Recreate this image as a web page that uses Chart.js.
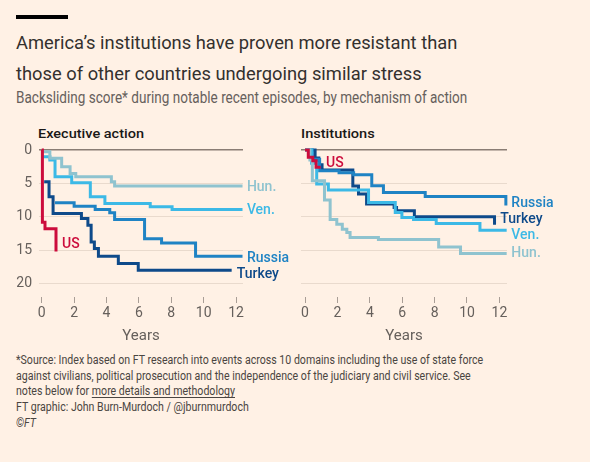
<!DOCTYPE html>
<html lang="en">
  <head>
    <meta charset="UTF-8" />
    <title>Backsliding score</title>
    <script src="https://cdn.jsdelivr.net/npm/chart.js"></script>
    <style>
      body {
        margin: 0;
        background: #fff1e5;
        font-family: Roboto, sans-serif;
        color: #33302e;
      }
      .page {
        position: relative;
        width: 590px;
        height: 462px;
        overflow: hidden;
      }
      .bar {
        position: absolute;
        left: 16px;
        top: 15px;
        width: 52px;
        height: 4px;
        background: #000;
      }
      .txt {
        position: absolute;
        left: 16px;
        white-space: nowrap;
        transform-origin: 0 0;
      }
      .title {
        top: 27px;
        font-size: 19px;
        line-height: 31px;
      }
      .subtitle {
        top: 88px;
        font-size: 16px;
        line-height: 20px;
        color: #66605c;
      }
      .panel {
        top: 126px;
        font-size: 13px;
        font-weight: 500;
        line-height: 16px;
        color: #1a1817;
      }
      .footer {
        top: 353px;
        font-size: 12px;
        line-height: 15.7px;
        color: #4a4541;
      }
      .footer u { text-underline-offset: 2px; }
      canvas {
        position: absolute;
        top: 120px;
      }
    </style>
  </head>
  <body>
    <div class="page">
      <div class="bar"></div>
      <div class="txt title" data-fit="441">
        America’s institutions have proven more resistant than<br />
        those of other countries undergoing similar stress
      </div>
      <div class="txt subtitle" data-fit="451">
        Backsliding score* during notable recent episodes, by mechanism of action
      </div>
      <div class="txt panel" style="left: 38px" data-fit="106">Executive action</div>
      <div class="txt panel" style="left: 301px" data-fit="74">Institutions</div>
      <div class="txt footer" data-fit="467">
        *Source: Index based on FT research into events across 10 domains including the use of state force<br />
        against civilians, political prosecution and the independence of the judiciary and civil service. See<br />
        notes below for <u>more details and methodology</u><br />
        FT graphic: John Burn-Murdoch / @jburnmurdoch<br />
        <i>©FT</i>
      </div>
      <canvas id="execChart" width="290" height="230" style="left: 0"></canvas>
      <canvas id="instChart" width="300" height="230" style="left: 290px"></canvas>
    </div>

    <script>
      // x ticks (years since episode start) and y ticks (backsliding score)
      const yearTicks = [0, 2, 4, 6, 8, 10, 12];
      const scoreTicks = [0, 5, 10, 15, 20];
      const countries = ["US", "Hun.", "Ven.", "Russia", "Turkey"];

      // Executive action: [years, score]
      const execUS = [[0, 0], [0.04, 10.8], [0.2, 11.8], [0.88, 15.2]];
      const execHun = [[0, 0.25], [0.5, 1.25], [1.23, 2.5], [1.75, 3.5], [2.1, 4.0], [4.3, 4.75], [4.5, 5.4], [12.4, 5.4]];
      const execVen = [[0, 1.0], [0.5, 1.5], [0.82, 4.0], [1.85, 4.9], [3.0, 7.0], [3.9, 8.0], [6.7, 8.5], [8.05, 8.9], [12.4, 8.9]];
      const execRussia = [[0.82, 7.9], [2.0, 8.4], [3.3, 8.9], [4.2, 9.4], [4.5, 10.4], [6.35, 13.3], [7.4, 13.9], [9.5, 15.9], [12.4, 15.9]];
      const execTurkey = [[0.15, 4.75], [0.45, 7.0], [0.7, 9.5], [2.45, 10.25], [2.85, 11.25], [3.05, 13.75], [3.25, 14.75], [3.5, 15.9], [4.73, 17.0], [5.96, 18.0], [11.73, 18.0]];

      // Institutions: [years, score]
      const instUS = [[0, 0], [0.2, 1.1], [0.48, 1.6], [0.68, 2.6], [0.97, 2.6]];
      const instHun = [[0, 0], [0.3, 1.5], [0.45, 4.6], [1.2, 7.5], [1.55, 10.4], [1.96, 11.1], [2.3, 11.85], [2.58, 12.35], [2.78, 13.1], [4.53, 13.4], [8.25, 14.5], [9.6, 15.5], [12.45, 15.5]];
      const instVen = [[0, 0], [0.4, 2.0], [0.72, 5.1], [1.44, 6.0], [3.92, 7.85], [5.57, 9.35], [5.98, 10.1], [6.7, 10.4], [8.1, 11.0], [10.8, 12.0], [12.45, 12.0]];
      const instRussia = [[0, 0], [0.45, 1.4], [0.9, 3.1], [2.1, 3.4], [3.0, 3.7], [4.12, 5.35], [4.84, 6.35], [7.42, 6.95], [12.4, 8.3]];
      const instTurkey = [[0, 0], [0.62, 1.2], [0.85, 2.2], [1.05, 3.0], [2.95, 5.4], [3.3, 6.6], [3.8, 8.1], [5.5, 8.6], [5.65, 9.1], [6.75, 10.0], [11.7, 11.2]];

      const colors = {
        "US": "#cc0c3c",
        "Hun.": "#8fc3cf",
        "Ven.": "#3cb9e6",
        "Russia": "#1f83c4",
        "Turkey": "#0e4a8a",
      };

      // where the series names sit (in data units)
      const execLabels = [
        { text: "Hun.", x: 12.67, y: 5.55 },
        { text: "Ven.", x: 12.67, y: 9.0 },
        { text: "Russia", x: 12.67, y: 16.2 },
        { text: "Turkey", x: 12.05, y: 18.6 },
        { text: "US", x: 1.25, y: 14.1 },
      ];
      const instLabels = [
        { text: "Russia", x: 12.74, y: 8.0 },
        { text: "Turkey", x: 12.06, y: 10.45 },
        { text: "Ven.", x: 12.74, y: 12.85 },
        { text: "Hun.", x: 12.74, y: 15.55 },
        { text: "US", x: 1.3, y: 2.0 },
      ];

      Chart.defaults.font.family = "Roboto, sans-serif";
      Chart.defaults.color = "#66605c";

      const endLabels = {
        id: "endLabels",
        afterDatasetsDraw(chart, args, opts) {
          const { ctx, scales } = chart;
          ctx.save();
          ctx.font = "500 14px Roboto, sans-serif";
          ctx.textBaseline = "middle";
          opts.items.forEach((l) => {
            ctx.fillStyle = colors[l.text];
            ctx.fillText(l.text, scales.x.getPixelForValue(l.x), scales.y.getPixelForValue(l.y));
          });
          ctx.restore();
        },
      };

      function makeDatasets(series) {
        // first dataset is drawn on top
        return countries.map((c, i) => ({
          label: c,
          data: series[i].map((p) => ({ x: p[0], y: p[1] })),
          borderColor: colors[c],
          borderWidth: 3,
          stepped: true,
          pointRadius: 0,
          fill: false,
          clip: false,
        }));
      }

      function makeChart(id, series, labels, opts) {
        return new Chart(document.getElementById(id), {
          type: "line",
          data: { datasets: makeDatasets(series) },
          plugins: [endLabels],
          options: {
            responsive: false,
            animation: false,
            events: [],
            layout: { padding: { top: 30, right: opts.padRight, left: 0, bottom: 0 } },
            plugins: {
              legend: { display: false },
              tooltip: { enabled: false },
              endLabels: { items: labels },
            },
            scales: {
              x: {
                type: "linear",
                min: opts.xMin,
                max: opts.xMax,
                afterBuildTicks: (axis) => {
                  axis.ticks = yearTicks.map((v) => ({ value: v }));
                },
                afterFit: (axis) => {
                  axis.height = 53;
                },
                ticks: { font: { size: 14 }, padding: 2, maxRotation: 0 },
                grid: { drawOnChartArea: false, drawTicks: true, tickLength: 6, tickColor: "#a99e96" },
                border: { display: false },
                title: {
                  display: true,
                  text: "Years",
                  font: { size: 15 },
                  padding: { top: 0, bottom: 5 },
                },
              },
              y: {
                type: "linear",
                reverse: true,
                min: 0,
                max: 22,
                afterBuildTicks: (axis) => {
                  axis.ticks = scoreTicks.map((v) => ({ value: v }));
                },
                afterFit: (axis) => {
                  axis.width = opts.yWidth;
                },
                ticks: { display: opts.yLabels, font: { size: 14 }, padding: 7 },
                grid: {
                  drawTicks: false,
                  color: (ctx) => (ctx.tick && ctx.tick.value === 0 ? "#8a7d74" : "#e9dacd"),
                  lineWidth: (ctx) => (ctx.tick && ctx.tick.value === 0 ? 1.5 : 1),
                },
                border: { display: false },
              },
            },
          },
        });
      }

      document.addEventListener("DOMContentLoaded", () => {
        // squeeze text blocks to the width they have in the original
        document.querySelectorAll("[data-fit]").forEach((el) => {
          const w = el.offsetWidth;
          el.style.transform = `scaleX(${+el.dataset.fit / w})`;
        });

        makeChart("execChart", [execUS, execHun, execVen, execRussia, execTurkey], execLabels, {
          xMin: -0.17, xMax: 12.43, padRight: 47, yWidth: 39, yLabels: true,
        });
        makeChart("instChart", [instUS, instHun, instVen, instRussia, instTurkey], instLabels, {
          xMin: -0.25, xMax: 12.47, padRight: 83, yWidth: 11, yLabels: false,
        });
      });
    </script>
  </body>
</html>
